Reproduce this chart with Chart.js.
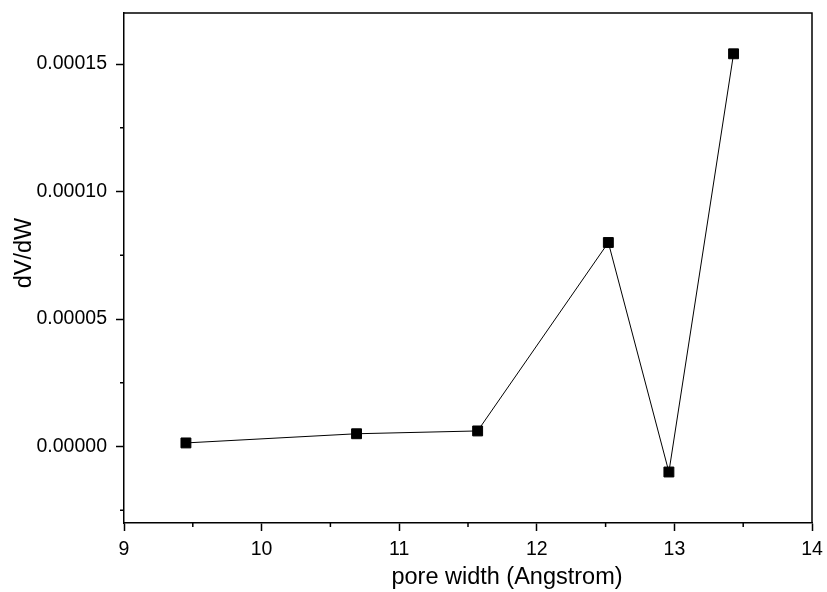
<!DOCTYPE html>
<html>
<head>
<meta charset="utf-8">
<title>dV/dW vs pore width</title>
<script src="https://cdn.jsdelivr.net/npm/chart.js"></script>
<style>
    html, body { margin: 0; padding: 0; background: #fff; }
    #wrap { width: 827px; height: 592px; }
</style>
</head>
<body>
<div id="wrap"><canvas id="poreChart" width="827" height="592"></canvas></div>
<script>
    // values
    const poreWidth = [9.45, 10.69, 11.57, 12.52, 12.96, 13.43];
    const dvdw = [0.0000014, 0.0000050, 0.0000061, 0.0000800, -0.0000100, 0.0001540];
    const xTicks = [9, 10, 11, 12, 13, 14];
    const yTicks = [0, 0.00005, 0.0001, 0.00015];
    const xTitle = 'pore width (Angstrom)';
    const yTitle = 'dV/dW';

    const FONT = 'Liberation Sans, Arial, sans-serif';

    // minor ticks, top/right frame and the two axis titles (origin puts them off-centre)
    const frame = {
        id: 'frame',
        afterDraw(chart) {
            const ctx = chart.ctx;
            const a = chart.chartArea;
            const xs = chart.scales.x, ys = chart.scales.y;
            ctx.save();
            ctx.strokeStyle = '#000';
            ctx.lineWidth = 1.5;
            ctx.beginPath();
            ctx.moveTo(a.left, a.top);
            ctx.lineTo(a.right, a.top);
            ctx.lineTo(a.right, a.bottom);
            ctx.stroke();
            ctx.beginPath();
            for (let v = 9.5; v < 14; v += 1) {
                const px = xs.getPixelForValue(v);
                ctx.moveTo(px, a.bottom);
                ctx.lineTo(px, a.bottom + 4);
            }
            for (let v = -0.000025; v < 0.00017; v += 0.00005) {
                const py = ys.getPixelForValue(v);
                ctx.moveTo(a.left, py);
                ctx.lineTo(a.left - 4, py);
            }
            ctx.stroke();

            ctx.fillStyle = '#000';
            ctx.font = '23.5px ' + FONT;
            ctx.textAlign = 'center';
            ctx.textBaseline = 'middle';
            ctx.fillText(xTitle, 507, 578);
            ctx.translate(25, 253);
            ctx.rotate(-Math.PI / 2);
            ctx.fillText(yTitle, 0, 0);
            ctx.restore();
        }
    };

    new Chart(document.getElementById('poreChart'), {
        type: 'scatter',
        data: {
            datasets: [{
                data: poreWidth.map((x, i) => ({ x: x, y: dvdw[i] })),
                showLine: true,
                borderColor: '#000',
                borderWidth: 1,
                pointStyle: 'rect',
                pointRadius: 7,
                pointBackgroundColor: '#000',
                pointBorderColor: '#000',
                pointBorderWidth: 1
            }]
        },
        options: {
            responsive: false,
            animation: false,
            layout: { padding: { top: 13, right: 15, left: 0, bottom: 0 } },
            plugins: {
                legend: { display: false },
                tooltip: { enabled: false }
            },
            scales: {
                x: {
                    type: 'linear',
                    min: 9,
                    max: 14,
                    afterBuildTicks(scale) { scale.ticks = xTicks.map(v => ({ value: v })); },
                    afterFit(scale) {
                        scale.height = 69;
                        scale.paddingLeft = 0;
                        scale.paddingRight = 0;
                    },
                    border: { color: '#000', width: 1.5 },
                    grid: { drawOnChartArea: false, color: '#000', tickLength: 8, tickWidth: 1.5 },
                    ticks: {
                        color: '#000',
                        padding: 7,
                        font: { family: FONT, size: 19.5 },
                        maxRotation: 0
                    }
                },
                y: {
                    type: 'linear',
                    min: -0.00003,
                    max: 0.00017,
                    afterBuildTicks(scale) { scale.ticks = yTicks.map(v => ({ value: v })); },
                    afterFit(scale) {
                        scale.width = 124;
                        scale.paddingTop = 0;
                        scale.paddingBottom = 0;
                    },
                    border: { color: '#000', width: 1.5 },
                    grid: { drawOnChartArea: false, color: '#000', tickLength: 8, tickWidth: 1.5 },
                    ticks: {
                        color: '#000',
                        padding: 9,
                        font: { family: FONT, size: 19.5 },
                        callback: v => v.toFixed(5)
                    }
                }
            }
        },
        plugins: [frame]
    });
</script>
</body>
</html>
